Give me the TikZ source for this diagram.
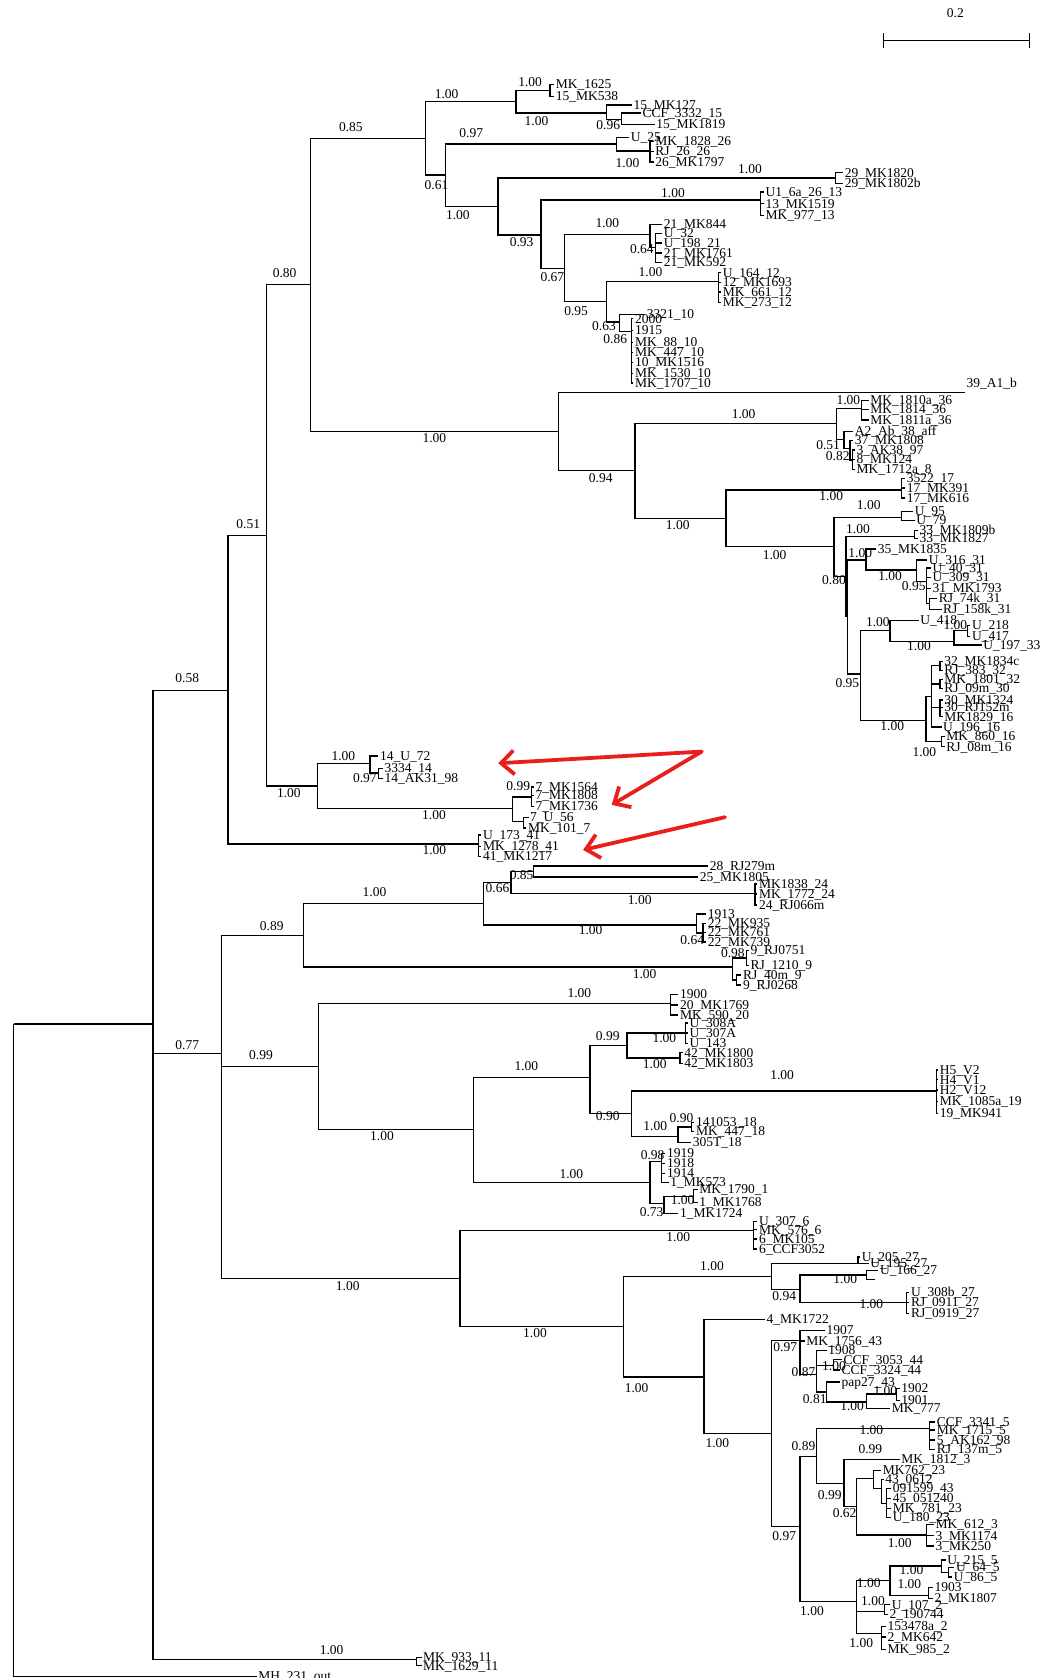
\documentclass[tikz,border=0pt]{standalone}
\usepackage{fontspec}
\setmainfont{Liberation Serif}
\usetikzlibrary{arrows.meta}
\newcounter{lc}\newcounter{sc}
\newcommand\labfont{\fontsize{13.5}{14}\selectfont}
\newcommand\trnd[4]{\coordinate (#1) at (#3,#4);\draw[br] (#2) |- (#1);}
\newcommand\trlf[4]{\stepcounter{lc}\coordinate (L\arabic{lc}) at (#2,#3);\draw[br] (#1) |- (L\arabic{lc});\node[lab] (T\arabic{lc}) at (L\arabic{lc}) {#4};}
\newcommand\trsv[3]{\stepcounter{sc}\node[sup] (S\arabic{sc}) at (#1,#2) {#3};}
\begin{document}
\begin{tikzpicture}[x=1.06991pt,y=-1.06991pt,
  br/.style={line width=1.3pt},
  lab/.style={anchor=west,inner sep=0pt,xshift=1.5pt,font=\labfont,text height=8.5pt,text depth=0pt},
  sup/.style={inner sep=0pt,font=\labfont,text height=8.5pt,text depth=0pt},
  redarrow/.style={draw={rgb,255:red,235;green,30;blue,30},line width=3.8pt,line cap=round,-{Straight Barb[length=13pt,width=24pt]}}]
\useasboundingbox (0,0) rectangle (987,1568.4);
% scale bar
\coordinate (sbA) at (826,38); \coordinate (sbB) at (962,38);
\draw[br] (sbA) -- (sbB);
\draw[br] (sbA) ++(0,-7) -- ++(0,14);
\draw[br] (sbB) ++(0,-7) -- ++(0,14);
\node[sup] (sbl) at (893,12) {0.2};
% root
\coordinate (root) at (12.7,957.1);
\trnd{N1a}{root}{143}{957.1}
\trlf{root}{240}{1567}{MH\_231\_out}
\trnd{N1b}{N1a}{143}{1268.2}
\trnd{N058}{N1a}{213}{645.5} \trsv{175}{634}{0.58}
\trnd{N051}{N058}{249}{500.7} \trsv{232}{490}{0.51}
\trnd{N080}{N051}{290}{266} \trsv{266}{255}{0.80}
\trnd{N085}{N080}{398}{129.3} \trsv{328}{119}{0.85}
% A1
\trnd{A1}{N085}{482.3}{95} \trsv{417.5}{88}{1.00}
\trnd{A1a}{A1}{514}{84.7} \trsv{495.5}{77}{1.00}
\trlf{A1a}{518}{79}{MK\_1625}
\trlf{A1a}{518}{90}{15\_MK538}
\trnd{A1b}{A1}{566.7}{105.5} \trsv{501.5}{113}{1.00}
\trlf{A1b}{590.7}{98}{15\_MK127}
\trnd{A1c}{A1b}{580.7}{112} \trsv{568.5}{117}{0.96}
\trlf{A1c}{599}{105.5}{CCF\_3332\_15}
\trlf{A1c}{612}{116.5}{15\_MK1819}
% B
\trnd{B}{N085}{416.6}{163.5} \trsv{408}{173}{0.61}
\trnd{B1}{B}{576}{134.5} \trsv{440.5}{125}{0.97}
\trlf{B1}{588}{128.3}{U\_25}
\trnd{B1a}{B1}{607.5}{141} \trsv{586.5}{152.5}{1.00}
\trlf{B1a}{611}{132}{MK\_1828\_26}
\trlf{B1a}{611}{141.5}{RJ\_26\_26}
\trlf{B1a}{611}{151.5}{26\_MK1797}
\trnd{B2}{B}{465.5}{193} \trsv{428}{201.6}{1.00}
\trnd{B29}{B2}{781}{166.5} \trsv{701}{158}{1.00}
\trlf{B29}{788}{161.5}{29\_MK1820}
\trlf{B29}{788}{171.5}{29\_MK1802b}
\trnd{C}{B2}{505.6}{219.6} \trsv{487.5}{226}{0.93}
\trnd{C13}{C}{711}{187} \trsv{629}{180.6}{1.00}
\trlf{C13}{714}{179.5}{U1\_6a\_26\_13}
\trlf{C13}{714}{190.5}{13\_MK1519}
\trlf{C13}{714}{201.5}{MK\_977\_13}
\trnd{C67}{C}{527.4}{251} \trsv{516.3}{259}{0.67}
\trnd{C608}{C67}{607.5}{219} \trsv{567.7}{208.6}{1.00}
\trlf{C608}{619}{209.7}{21\_MK844}
\trnd{C613}{C608}{612.8}{231.5} \trsv{600}{232.7}{0.64}
\trlf{C613}{619}{218}{U\_32}
\trlf{C613}{619}{227}{U\_198\_21}
\trlf{C613}{619}{236.4}{21\_MK1761}
\trlf{C613}{619}{245.5}{21\_MK592}
\trnd{C95}{C67}{567}{282} \trsv{538.5}{291}{0.95}
\trnd{C12}{C95}{671.3}{263} \trsv{608}{254.8}{1.00}
\trlf{C12}{674}{255}{U\_164\_12}
\trlf{C12}{674}{264}{12\_MK1693}
\trlf{C12}{674}{273}{MK\_661\_12}
\trlf{C12}{674}{282.5}{MK\_273\_12}
\trnd{C63}{C95}{578.8}{301} \trsv{564.5}{305.3}{0.63}
\trlf{C63}{603}{293.8}{3321\_10}
\trnd{C86}{C63}{590.3}{310} \trsv{575}{317}{0.86}
\trlf{C86}{592}{298}{2000}
\trlf{C86}{592}{309}{1915}
\trlf{C86}{592}{320}{MK\_88\_10}
\trlf{C86}{592}{329.5}{MK\_447\_10}
\trlf{C86}{592}{339}{10\_MK1516}
\trlf{C86}{592}{349}{MK\_1530\_10}
\trlf{C86}{592}{358}{MK\_1707\_10}
% 39 clade
\trnd{N100a}{N080}{521.7}{403.5} \trsv{406}{410}{1.00}
\coordinate (L39) at (902,367); \draw[br] (N100a) |- (L39);
\node[lab] (T39) at (902,358) {39\_A1\_b};
\trnd{N094}{N100a}{593.5}{440} \trsv{561.5}{447.4}{0.94}
\trnd{N782}{N094}{782}{396} \trsv{695}{387}{1.00}
\trnd{N36}{N782}{805.3}{381.6} \trsv{793}{374.5}{1.00}
\trlf{N36}{812}{374.5}{MK\_1810a\_36}
\trlf{N36}{812}{382.6}{MK\_1814\_36}
\trlf{N36}{812}{392.5}{MK\_1811a\_36}
\trnd{X789}{N782}{788.8}{411}
\trlf{X789}{797.4}{403.5}{A2\_Ab\_38\_aff}
\trnd{X795}{X789}{794.4}{419} \trsv{774}{416}{0.51}
\trlf{X795}{797.5}{411.5}{37\_MK1808}
\trnd{X799}{X795}{796.9}{429.9} \trsv{783}{426.2}{0.82}
\trlf{X799}{799}{420.5}{3\_AK38\_97}
\trlf{X799}{799}{429.5}{8\_MK124}
\trlf{X799}{799}{438.5}{MK\_1712a\_8}
\trnd{N678}{N094}{678.5}{484.5} \trsv{633.5}{490.7}{1.00}
\trnd{N17}{N678}{842.7}{458} \trsv{777}{463.6}{1.00}
\trlf{N17}{846}{447}{3522\_17}
\trlf{N17}{846}{456}{17\_MK391}
\trlf{N17}{846}{465.6}{17\_MK616}
\trnd{N779}{N678}{779.5}{511} \trsv{724}{518.7}{1.00}
\trnd{U95}{N779}{842.7}{483.6} \trsv{812}{472}{1.00}
\trlf{U95}{853.6}{478.3}{U\_95}
\trlf{U95}{855}{486.7}{U\_79}
\trnd{P}{N779}{790.7}{539} \trsv{779.5}{542}{0.80}
\trnd{N33}{P}{855}{501.6} \trsv{802}{494.7}{1.00}
\trlf{N33}{858}{496}{33\_MK1809b}
\trlf{N33}{858}{503.5}{33\_MK1827}
\trnd{Q}{P}{792}{576}
\trnd{N35}{Q}{809.3}{523.4} \trsv{804}{517}{1.00}
\trlf{N35}{819}{513}{35\_MK1835}
\trnd{N31}{N35}{856.7}{532.7} \trsv{832}{539}{1.00}
\trlf{N31}{866.5}{523.4}{U\_316\_31}
\trnd{N31b}{N31}{866}{543.6} \trsv{854}{548}{0.95}
\trlf{N31b}{870}{531}{U\_40\_31}
\trlf{N31b}{870}{539.5}{U\_309\_31}
\trlf{N31b}{870}{549.8}{31\_MK1793}
\trnd{N31c}{N31b}{869}{564}
\trlf{N31c}{876}{559.2}{RJ\_74k\_31}
\trlf{N31c}{880}{569.5}{RJ\_158k\_31}
\trnd{R0}{Q}{804.4}{629.9} \trsv{792}{638.6}{0.95}
\trnd{N418}{R0}{831.8}{589.6} \trsv{820.5}{582}{1.00}
\trlf{N418}{858.6}{580}{U\_418}
\trnd{N892}{N418}{891.6}{599.4} \trsv{859}{603.7}{1.00}
\trnd{N905}{N892}{904.6}{589} \trsv{893}{584}{1.00}
\trlf{N905}{907}{584.6}{U\_218}
\trlf{N905}{907}{594.6}{U\_417}
\trlf{N892}{917.6}{602.8}{U\_197\_33}
\trnd{R}{R0}{865.4}{673.3} \trsv{834}{679}{1.00}
\trnd{R1}{R}{870.7}{651}
\trnd{N32}{R1}{878.5}{622.3}
\trlf{N32}{881}{618}{32\_MK1834c}
\trlf{N32}{881}{626.5}{RJ\_383\_32}
\trnd{N30}{R1}{878.5}{639.2}
\trlf{N30}{881}{635}{MK\_1801\_32}
\trlf{N30}{881}{643.4}{RJ\_09m\_30}
\trnd{N30b}{R1}{878.5}{661}
\trlf{N30b}{881}{654.4}{30\_MK1324}
\trlf{N30b}{881}{661.5}{30\_RJ152m}
\trlf{N30b}{881}{670}{MK1829\_16}
\trlf{R1}{880}{679.6}{U\_196\_16}
\trnd{R2}{R}{880}{693.2} \trsv{864}{703.4}{1.00}
\trlf{R2}{883}{688.5}{MK\_860\_16}
\trlf{R2}{883}{698}{RJ\_08m\_16}
% 14 and 7 clades
\trnd{N297}{N051}{297}{734.7} \trsv{270}{741}{1.00}
\trnd{N14}{N297}{345.8}{713.4} \trsv{321}{706.5}{1.00}
\trlf{N14}{353.6}{706.5}{14\_U\_72}
\trnd{N14b}{N14}{353.6}{722.4} \trsv{341}{727.4}{0.97}
\trlf{N14b}{358}{718.4}{3334\_14}
\trlf{N14b}{358}{727.7}{14\_AK31\_98}
\trnd{N7}{N297}{479}{756} \trsv{405.7}{761.7}{1.00}
\trnd{N7a}{N7}{497}{745} \trsv{484.4}{735.2}{0.99}
\trlf{N7a}{499}{735.5}{7\_MK1564}
\trlf{N7a}{499}{743.5}{7\_MK1808}
\trlf{N7a}{499}{754}{7\_MK1736}
\trnd{N7b}{N7}{489.3}{767.9}
\trlf{N7b}{494}{764}{7\_U\_56}
\trlf{N7b}{492}{774}{MK\_101\_7}
\trnd{N41}{N058}{447}{789} \trsv{406}{795}{1.00}
\trlf{N41}{450}{780.4}{U\_173\_41}
\trlf{N41}{450}{791}{MK\_1278\_41}
\trlf{N41}{450}{800.6}{41\_MK1217}
% arrows
\coordinate (ar0) at (655.8,702.5); \coordinate (ar1) at (465.7,713.4);
\coordinate (ar2) at (571.7,752.3); \coordinate (ar3) at (677.6,763.8);
\coordinate (ar4) at (545,794.4);
\draw[redarrow] (ar0) -- (ar1);
\draw[redarrow] (ar0) -- (ar2);
\draw[redarrow] (ar3) -- (ar4);
% lower clade
\trnd{Na}{N1b}{207}{985} \trsv{175}{977}{0.77}
\trnd{N089}{Na}{284}{874.3} \trsv{254}{866}{0.89}
\trnd{N452}{N089}{451.7}{844.7} \trsv{350}{834}{1.00}
\trnd{N477}{N452}{477.6}{825} \trsv{465}{830}{0.66}
\trnd{N498}{N477}{498.4}{814.5} \trsv{487.5}{817.8}{0.85}
\trlf{N498}{662}{809.3}{28\_RJ279m}
\trlf{N498}{652.6}{819.6}{25\_MK1805}
\trnd{N24}{N477}{705.6}{835} \trsv{598}{841}{1.00}
\trlf{N24}{708}{826.2}{MK1838\_24}
\trlf{N24}{708}{835.5}{MK\_1772\_24}
\trlf{N24}{708}{845.8}{24\_RJ066m}
\trnd{N651}{N452}{651}{864.5} \trsv{552}{869.8}{1.00}
\trlf{N651}{660}{854.2}{1913}
\trnd{N22}{N651}{657}{872} \trsv{647}{878.5}{0.64}
\trlf{N22}{660}{863}{22\_MK935}
\trlf{N22}{660}{871.5}{22\_MK761}
\trlf{N22}{660}{880.5}{22\_MK739}
\trnd{N685}{N089}{684.7}{903.8} \trsv{602.5}{910.3}{1.00}
\trnd{N9a}{N685}{697.8}{895.4} \trsv{685}{891}{0.98}
\trlf{N9a}{700}{888.5}{9\_RJ0751}
\trlf{N9a}{700}{902.3}{RJ\_1210\_9}
\trnd{N9b}{N685}{688.5}{916}
\trlf{N9b}{693}{911.2}{RJ\_40m\_9}
\trlf{N9b}{693}{920.6}{9\_RJ0268}
\trnd{Nb}{Na}{207}{1095.8}
\trnd{N099}{Nb}{298}{996.6} \trsv{244}{986}{0.99}
\trnd{N20}{N099}{626.5}{937.7} \trsv{541.5}{928.4}{1.00}
\trlf{N20}{634}{929.5}{1900}
\trlf{N20}{634}{939.3}{20\_MK1769}
\trlf{N20}{634}{948.6}{MK\_590\_20}
\trnd{N441}{N099}{442.3}{1055.5} \trsv{357}{1062}{1.00}
\trnd{N552}{N441}{551.4}{1007} \trsv{492}{996.9}{1.00}
\trnd{D}{N552}{586}{977} \trsv{568}{969}{0.99}
\trnd{D1}{D}{641}{965.6} \trsv{621}{970.4}{1.00}
\trlf{D1}{643}{956.3}{U\_308A}
\trlf{D1}{643}{965.6}{U\_307A}
\trlf{D1}{643}{975.5}{U\_143}
\trnd{D2}{D}{635.6}{989} \trsv{612}{994.4}{1.00}
\trlf{D2}{638}{984}{42\_MK1800}
\trlf{D2}{638}{994}{42\_MK1803}
\trnd{N590}{N552}{590.4}{1040.8} \trsv{568}{1043.6}{0.90}
\trnd{N19}{N590}{875}{1019.6} \trsv{731}{1004.7}{1.00}
\trlf{N19}{877}{1000}{H5\_V2}
\trlf{N19}{877}{1009.3}{H4\_V1}
\trlf{N19}{877}{1018.7}{H2\_V12}
\trlf{N19}{877}{1029.6}{MK\_1085a\_19}
\trlf{N19}{877}{1040.5}{19\_MK941}
\trnd{N18}{N590}{633.7}{1062} \trsv{612.5}{1053}{1.00}
\trnd{N18a}{N18}{646.4}{1053.5} \trsv{637}{1045.2}{0.90}
\trlf{N18a}{649}{1049.3}{141053\_18}
\trlf{N18a}{649}{1057.6}{MK\_447\_18}
\trlf{N18}{646}{1067.9}{305T\_18}
\trnd{N607}{N441}{607.5}{1105} \trsv{534}{1098}{1.00}
\trnd{N618}{N607}{618.4}{1085.7} \trsv{610}{1079.4}{0.98}
\trlf{N618}{622}{1078}{1919}
\trlf{N618}{622}{1087.2}{1918}
\trlf{N618}{622}{1096.6}{1914}
\trlf{N618}{625}{1105}{1\_MK573}
\trnd{N073}{N607}{620.6}{1124.6} \trsv{609}{1133.3}{0.73}
\trnd{N1mk}{N073}{648}{1118.4} \trsv{638}{1121.5}{1.00}
\trlf{N1mk}{652}{1112}{MK\_1790\_1}
\trlf{N1mk}{652}{1124}{1\_MK1768}
\trlf{N073}{634}{1134}{1\_MK1724}
\trnd{N430}{Nb}{430}{1195} \trsv{325}{1202}{1.00}
\trnd{N6}{N430}{704}{1150.3} \trsv{634}{1156.4}{1.00}
\trlf{N6}{708}{1141.7}{U\_307\_6}
\trlf{N6}{708}{1149.5}{MK\_576\_6}
\trlf{N6}{708}{1158}{6\_MK105}
\trlf{N6}{708}{1167.4}{6\_CCF3052}
\trnd{N583}{N430}{583}{1240} \trsv{500}{1246}{1.00}
\trnd{N721}{N583}{721.2}{1193} \trsv{665.5}{1183.6}{1.00}
\trnd{N27a}{N721}{802}{1180.7}
\trlf{N27a}{804}{1175}{U\_205\_27}
\trlf{N27a}{812}{1181}{U\_195\_27}
\trnd{N748}{N721}{747.7}{1205} \trsv{733}{1212}{0.94}
\trnd{N27b}{N748}{810}{1191.6} \trsv{790}{1196}{1.00}
\trlf{N27b}{821}{1187.5}{U\_166\_27}
\coordinate (L27x) at (818,1196); \draw[br] (N27b) |- (L27x);
\trnd{N27c}{N748}{847.4}{1217.7} \trsv{814.5}{1218.7}{1.00}
\trlf{N27c}{850}{1208}{U\_308b\_27}
\trlf{N27c}{850}{1217.5}{RJ\_0911\_27}
\trlf{N27c}{850}{1227.4}{RJ\_0919\_27}
\trnd{N659}{N583}{658}{1287} \trsv{595}{1298}{1.00}
\trlf{N659}{715}{1233.5}{4\_MK1722}
\trnd{N721b}{N659}{721}{1340} \trsv{670.5}{1349}{1.00}
\trnd{N748b}{N721b}{747.7}{1253} \trsv{734}{1259.3}{0.97}
\trlf{N748b}{771}{1243.6}{1907}
\trlf{N748b}{752}{1253.5}{MK\_1756\_43}
\trnd{N763}{N748b}{763}{1285} \trsv{751}{1283}{0.87}
\trlf{N763}{772.6}{1262}{1908}
\trnd{C44}{N763}{779}{1276} \trsv{779.5}{1277}{1.00}
\trlf{C44}{787}{1271}{CCF\_3053\_44}
\trlf{C44}{785}{1280.5}{CCF\_3324\_44}
\trnd{C81}{N763}{772.6}{1301} \trsv{761.5}{1308}{0.81}
\trlf{C81}{785}{1291.6}{pap27\_43}
\trnd{C810}{C81}{810}{1310.3} \trsv{796.5}{1314.6}{1.00}
\trnd{C838}{C810}{838}{1303} \trsv{827.5}{1300.6}{1.00}
\trlf{C838}{841}{1297.7}{1902}
\trlf{C838}{841}{1308.7}{1901}
\trlf{C810}{832}{1316.5}{MK\_777}
\trnd{N748c}{N721b}{747.7}{1426.8} \trsv{733}{1436.2}{0.97}
\trnd{N763b}{N748c}{763}{1361.4} \trsv{751}{1352}{0.89}
\trnd{N5}{N763b}{869}{1335} \trsv{814.5}{1337}{1.00}
\trlf{N5}{874}{1329}{CCF\_3341\_5}
\trlf{N5}{874}{1336.5}{MK\_1715\_5}
\trlf{N5}{874}{1346}{5\_AK162\_98}
\trlf{N5}{874}{1354.8}{RJ\_137m\_5}
\trnd{N789b}{N763b}{788.8}{1386.3} \trsv{775.5}{1397.2}{0.99}
\trlf{N789b}{841}{1363.9}{MK\_1812\_3} \trsv{813.5}{1354.5}{0.99}
\trnd{N800b}{N789b}{800.6}{1408} \trsv{789.5}{1414.3}{0.62}
\trnd{N816}{N800b}{816.2}{1381.6}
\trlf{N816}{823.7}{1374.5}{MK762\_23}
\trnd{N824}{N816}{823.7}{1391}
\trlf{N824}{826}{1382.6}{43\_0612}
\trnd{N830}{N824}{828.5}{1405}
\trlf{N830}{833}{1391.3}{091599\_43}
\trlf{N830}{833}{1400.6}{45\_051240}
\trlf{N830}{833}{1410}{MK\_781\_23}
\trlf{N830}{833}{1418.4}{U\_180\_23}
\trnd{N866b}{N800b}{866}{1434.6} \trsv{841}{1442.4}{1.00}
\trlf{N866b}{873}{1425}{MK\_612\_3}
\trlf{N866b}{873}{1435.5}{3\_MK1174}
\trlf{N866b}{873}{1444.9}{3\_MK250}
\trnd{N800c}{N748c}{800.6}{1497} \trsv{759}{1506.2}{1.00}
\trnd{N832}{N800c}{831.8}{1477} \trsv{812}{1479.8}{1.00}
\trnd{N880}{N832}{880}{1463.6} \trsv{852}{1468}{1.00}
\trlf{N880}{884}{1458}{U\_215\_5}
\trnd{N889}{N880}{886.5}{1469.8}
\trlf{N889}{892}{1465}{U\_64\_5}
\trlf{N889}{890}{1474}{U\_86\_5}
\trnd{N868}{N832}{867.6}{1491} \trsv{850}{1480.4}{1.00}
\trlf{N868}{872}{1484}{1903}
\trlf{N868}{872}{1494}{2\_MK1807}
\trnd{N827}{N800c}{827}{1506.2} \trsv{816}{1497}{1.00}
\trlf{N827}{832}{1500}{U\_107\_2}
\trlf{N827}{830}{1509}{2\_190744}
\trnd{N824b}{N800c}{824}{1526.6} \trsv{805}{1535.8}{1.00}
\trlf{N824b}{828}{1520}{153478a\_2}
\trlf{N824b}{828}{1530}{2\_MK642}
\trlf{N824b}{828}{1541.8}{MK\_985\_2}
% MK 11 clade
\trnd{N11}{N1b}{389}{1551.4} \trsv{310}{1542.7}{1.00}
\trlf{N11}{394}{1549}{MK\_933\_11}
\trlf{N11}{394}{1557}{MK\_1629\_11}
\end{tikzpicture}
\end{document}
